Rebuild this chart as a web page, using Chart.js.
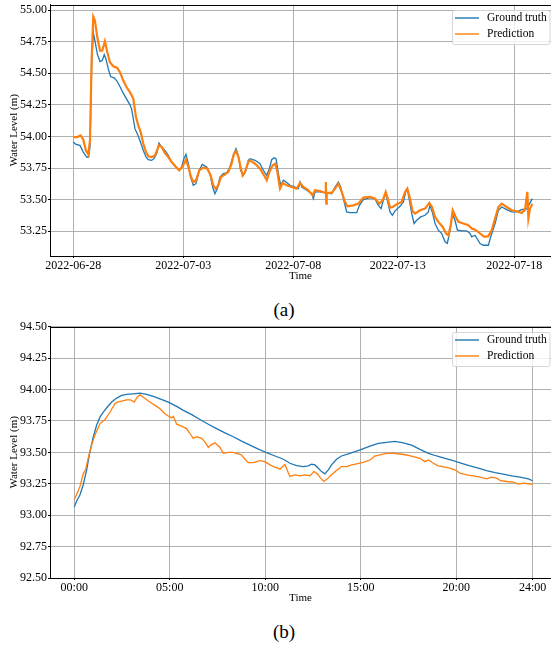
<!DOCTYPE html>
<html>
<head>
<meta charset="utf-8">
<script src="https://cdn.jsdelivr.net/npm/chart.js@4.4.1/dist/chart.umd.min.js"></script>
<style>
html, body { margin: 0; padding: 0; background: #fff; overflow: hidden; }
body { width: 551px; height: 650px; position: relative; font-family: 'Liberation Serif', 'Times New Roman', serif; }
canvas { position: absolute; left: 0; }
.cap { position: absolute; left: 0; width: 568px; text-align: center; font-size: 19px; line-height: 20px; color: #000; }
</style>
</head>
<body>
<canvas id="chartA" width="551" height="293" style="top:-10px"></canvas>
<div class="cap" style="top:300px">(a)</div>
<canvas id="chartB" width="551" height="293" style="top:312px"></canvas>
<div class="cap" style="top:622px">(b)</div>
<script>
// (a) x is the sample index of the plot, date ticks sit at the index where each day starts
const tickPosA = [0, 120, 240, 354, 481];
const tickLabelsA = ['2022-06-28', '2022-07-03', '2022-07-08', '2022-07-13', '2022-07-18'];
const yTicksA = [53.25, 53.5, 53.75, 54.0, 54.25, 54.5, 54.75, 55.0];

const truthXA = [0, 2.9, 7.3, 10.9, 14.5, 16.7, 18.2, 20, 21.8, 23.6, 26.2, 29.1, 31.6, 33.8, 35.6, 38.2, 40.7, 44.4, 47.3, 50.9,
  54.5, 58.2, 61.8, 63.6, 65.5, 67.3, 69.8, 72.7, 76.4, 79.3, 81.8, 85.5, 88, 90.9, 93.5, 96.4, 100, 103.6, 107.3, 110.9,
  115.6, 118.2, 120.7, 122.9, 125.5, 128, 130.9, 133.8, 137.5, 140.7, 145.5, 149.1, 152, 154.5, 157.1, 160, 163.6, 167.3, 170.9, 174.5,
  177.5, 180, 182.5, 185.5, 188.4, 190.9,
  192.8, 198.3, 203.7, 207.3, 211.0, 213.9, 216.4, 219.0, 221.2, 223.7, 226.3, 229.2, 232.1, 236.4, 241.9, 245.5, 247.3, 249.2, 254.6, 260.1,
  261.9, 263.7, 269.2, 276.4, 281.9, 285.5, 289.2, 291.7, 294.6, 298.2, 301.9, 309.2, 312.1, 316.4, 323.7, 329.2, 332.8, 335.7, 338.2, 340.8,
  342.6, 345.5, 348.1, 351.0, 356.4, 360.1, 363.0, 364.4, 366.6, 369.2, 371.7, 374.6, 379.0, 383.7, 387.3, 389.1, 392.1, 394.6, 398.2, 401.9,
  405.5, 408.0, 411.0, 413.5, 416.4, 419.0, 423.7, 429.1, 432.8, 434.6, 438.2, 443.7, 447.3, 452.8, 455.3, 460.1, 463.7, 467.3, 472.8, 478.2,
  483.7, 489.1, 494.6, 500.8];
const truthYA = [53.955, 53.937, 53.929, 53.876, 53.837, 53.837, 53.916, 54.547, 54.824, 54.758, 54.653, 54.592, 54.600, 54.647, 54.613, 54.534, 54.474, 54.463, 54.442, 54.395,
  54.342, 54.295, 54.250, 54.218, 54.139, 54.061, 54.021, 53.968, 53.889, 53.837, 53.816, 53.811, 53.824, 53.863, 53.947, 53.916, 53.889, 53.850, 53.797, 53.771,
  53.732, 53.758, 53.824, 53.858, 53.784, 53.679, 53.613, 53.626, 53.732, 53.779, 53.758, 53.705, 53.600, 53.547, 53.587, 53.679, 53.705, 53.711, 53.758, 53.850,
  53.903, 53.850, 53.732, 53.692, 53.732, 53.811,
  53.824, 53.811, 53.784, 53.732, 53.692, 53.745, 53.816, 53.832, 53.824, 53.705, 53.613, 53.653, 53.639, 53.613, 53.600, 53.587, 53.639, 53.600, 53.574, 53.547,
  53.508, 53.561, 53.561, 53.553, 53.547, 53.600, 53.639, 53.600, 53.508, 53.403, 53.397, 53.397, 53.455, 53.500, 53.516, 53.503, 53.455, 53.429, 53.495, 53.553,
  53.495, 53.403, 53.376, 53.411, 53.447, 53.482, 53.574, 53.587, 53.495, 53.389, 53.311, 53.337, 53.363, 53.376, 53.403, 53.455, 53.389, 53.311, 53.258, 53.232,
  53.166, 53.153, 53.258, 53.389, 53.337, 53.258, 53.253, 53.253, 53.232, 53.205, 53.218, 53.153, 53.139, 53.139, 53.205, 53.311, 53.416, 53.442, 53.421, 53.403,
  53.403, 53.421, 53.429, 53.508];

const predXA = [0, 4.4, 8.0, 10.9, 13.8, 16.4, 18.2, 20.0, 21.8, 23.6, 26.2, 29.1, 31.6, 34.5, 37.1, 40.0, 43.6, 48.0, 50.9, 54.5,
  58.2, 61.8, 65.5, 68.4, 70.9, 73.5, 76.4, 79.3, 81.8, 85.5, 89.1, 93.5, 96.4, 100.0, 103.6, 107.3, 110.9, 115.6, 119.3, 122.9,
  125.5, 128.4, 130.9, 133.8, 137.5, 141.8, 146.2, 149.8, 152.7, 155.3, 158.2, 161.1, 165.5, 169.1, 172.7, 175.3, 177.5, 180.0, 182.5, 184.7,
  187.3, 190.9,
  192.8, 198.3, 203.7, 208.1, 211.0, 213.9, 217.5, 220.4, 222.6, 225.5, 228.4, 232.8, 238.3, 243.7, 247.3, 251.0, 256.4, 261.2, 263.7, 269.2,
  275.0, 275.5, 276.0, 276.5, 281.9, 285.5, 289.2, 292.8, 296.4, 299.0, 305.5, 311.0, 316.4, 323.7, 329.2, 333.9, 337.5, 340.8, 343.0, 345.5,
  348.4, 352.8, 358.2, 361.9, 364.4, 367.3, 369.9, 372.8, 378.2, 383.7, 388.4, 391.3, 394.6, 398.2, 403.0, 406.6, 409.1, 411.7, 413.9, 416.8,
  420.1, 425.5, 431.0, 434.6, 438.2, 443.7, 448.4, 452.8, 456.4, 460.1, 463.7, 467.3, 472.8, 478.2, 483.7, 489.1, 492.8, 495.3, 496.4, 498.2,
  500.8];
const predYA = [53.995, 53.995, 54.008, 53.974, 53.889, 53.858, 53.968, 54.600, 54.947, 54.916, 54.784, 54.679, 54.679, 54.753, 54.666, 54.587, 54.555, 54.542, 54.508, 54.442,
  54.389, 54.350, 54.297, 54.153, 54.087, 54.034, 53.942, 53.876, 53.842, 53.837, 53.850, 53.929, 53.916, 53.868, 53.837, 53.797, 53.766, 53.732, 53.763, 53.816,
  53.758, 53.679, 53.639, 53.653, 53.732, 53.753, 53.745, 53.692, 53.613, 53.587, 53.613, 53.679, 53.700, 53.718, 53.784, 53.863, 53.884, 53.842, 53.758, 53.692,
  53.718, 53.797,
  53.811, 53.784, 53.745, 53.692, 53.653, 53.718, 53.771, 53.784, 53.718, 53.587, 53.632, 53.613, 53.600, 53.587, 53.632, 53.600, 53.574, 53.534, 53.574, 53.568,
  53.553, 53.639, 53.468, 53.553, 53.553, 53.587, 53.626, 53.561, 53.482, 53.447, 53.455, 53.468, 53.516, 53.521, 53.508, 53.468, 53.495, 53.561, 53.508, 53.437,
  53.442, 53.463, 53.482, 53.561, 53.587, 53.508, 53.411, 53.389, 53.416, 53.429, 53.474, 53.442, 53.363, 53.324, 53.284, 53.232, 53.218, 53.297, 53.416, 53.368,
  53.324, 53.311, 53.297, 53.271, 53.263, 53.232, 53.205, 53.211, 53.258, 53.350, 53.442, 53.468, 53.442, 53.416, 53.408, 53.395, 53.421, 53.561, 53.350, 53.429,
  53.468];

// (b) x in hours of the day
const tickPosB = [0, 5, 10, 15, 20, 24];
const tickLabelsB = ['00:00', '05:00', '10:00', '15:00', '20:00', '24:00'];
const yTicksB = [92.5, 92.75, 93.0, 93.25, 93.5, 93.75, 94.0, 94.25, 94.5];

const truthXB = [0, 0.12, 0.30, 0.47, 0.65, 0.82, 1.00, 1.17, 1.35, 1.52, 1.70, 1.96, 2.22, 2.48, 2.74, 3.09, 3.44, 3.79, 4.14, 4.49,
  4.92, 5.36, 5.71, 6.15, 6.58, 7.02, 7.45, 7.89, 8.33, 8.76, 9.20, 9.64, 10.07, 10.51, 10.95,
  11.29, 11.64, 11.99, 12.25, 12.43, 12.60, 12.78, 12.95, 13.12, 13.30, 13.47, 13.73, 13.99, 14.35, 14.70, 15.04, 15.48, 15.92, 16.35, 16.79,
  17.23, 17.66, 18.10, 18.54, 18.97, 19.41, 19.84, 20.28, 20.72, 21.15, 21.59, 22.03, 22.46, 22.90, 23.34, 23.77, 24.0];
const truthYB = [93.066, 93.111, 93.163, 93.242, 93.361, 93.505, 93.624, 93.716, 93.782, 93.821, 93.855, 93.900, 93.932, 93.953, 93.961, 93.966, 93.971, 93.961, 93.945, 93.926,
  93.900, 93.866, 93.834, 93.800, 93.761, 93.724, 93.689, 93.655, 93.624, 93.589, 93.558, 93.526, 93.497, 93.471, 93.445,
  93.413, 93.395, 93.387, 93.392, 93.405, 93.400, 93.374, 93.347, 93.329, 93.361, 93.400, 93.445, 93.471, 93.487, 93.505, 93.524, 93.550, 93.571, 93.579, 93.587,
  93.576, 93.558, 93.524, 93.492, 93.471, 93.453, 93.434, 93.413, 93.392, 93.374, 93.355, 93.339, 93.326, 93.313, 93.303, 93.289, 93.274];

const predXB = [0, 0.12, 0.30, 0.47, 0.59, 0.73, 0.91, 1.08, 1.35, 1.61, 1.87, 2.13, 2.26, 2.48, 2.74, 2.95, 3.13, 3.30, 3.44, 3.62,
  3.88, 4.23, 4.49, 4.75, 4.92, 5.10, 5.19, 5.36, 5.62, 5.88, 6.06, 6.23, 6.41, 6.67, 6.84, 7.02, 7.14, 7.37, 7.63, 7.80,
  8.06, 8.33, 8.59, 8.76, 8.94, 9.11, 9.37, 9.72, 9.98, 10.25, 10.42, 10.59, 10.77, 11.03, 11.20,
  11.29, 11.55, 11.82, 12.08, 12.34, 12.55, 12.73, 12.90, 13.07, 13.25, 13.47, 13.73, 13.99, 14.26, 14.52, 14.78, 15.13, 15.48, 15.74, 16.00,
  16.35, 16.70, 17.05, 17.40, 17.75, 18.10, 18.36, 18.54, 18.80, 19.06, 19.41, 19.67, 19.93, 20.19, 20.54, 20.89, 21.24, 21.59, 21.85, 22.11,
  22.32, 22.64, 22.99, 23.25, 23.51, 23.77, 24.0];
const predYB = [93.124, 93.163, 93.229, 93.329, 93.361, 93.453, 93.558, 93.637, 93.729, 93.761, 93.821, 93.887, 93.900, 93.908, 93.918, 93.918, 93.900, 93.939, 93.958, 93.939,
  93.908, 93.874, 93.847, 93.808, 93.789, 93.774, 93.787, 93.724, 93.708, 93.689, 93.650, 93.611, 93.624, 93.611, 93.584, 93.539, 93.558, 93.576, 93.539, 93.492,
  93.500, 93.500, 93.487, 93.479, 93.445, 93.418, 93.418, 93.434, 93.426, 93.400, 93.387, 93.379, 93.366, 93.405, 93.339,
  93.308, 93.321, 93.313, 93.321, 93.313, 93.347, 93.329, 93.295, 93.268, 93.289, 93.321, 93.355, 93.387, 93.387, 93.400, 93.408, 93.421, 93.439, 93.471, 93.479,
  93.492, 93.492, 93.487, 93.479, 93.466, 93.453, 93.426, 93.439, 93.413, 93.392, 93.382, 93.374, 93.361, 93.334, 93.321, 93.313, 93.303, 93.289, 93.303, 93.295,
  93.274, 93.268, 93.263, 93.247, 93.255, 93.250, 93.247];

const BLUE = '#1f77b4';
const ORANGE = '#ff7f0e';
const FONT = "'Liberation Serif', 'Times New Roman', serif";

Chart.defaults.font.family = FONT;
Chart.defaults.color = '#000';

function points(xs, ys) {
  return xs.map((x, i) => ({ x: x, y: ys[i] }));
}

// top spine, matplotlib style
const topSpine = {
  id: 'topSpine',
  afterDraw(chart) {
    const { ctx, chartArea: a } = chart;
    ctx.save();
    ctx.strokeStyle = '#000';
    ctx.lineWidth = 1;
    ctx.beginPath();
    ctx.moveTo(a.left, Math.round(a.top) + 0.5);
    ctx.lineTo(a.right, Math.round(a.top) + 0.5);
    ctx.stroke();
    ctx.restore();
  }
};

// legend box in the upper right corner of the plot
const cornerLegend = {
  id: 'cornerLegend',
  afterDraw(chart) {
    const { ctx, chartArea: a } = chart;
    const x0 = a.right - 99, y0 = a.top + 5.3;
    ctx.save();
    ctx.fillStyle = 'rgba(255,255,255,0.8)';
    ctx.strokeStyle = 'rgba(210,210,210,0.9)';
    ctx.lineWidth = 1;
    ctx.beginPath();
    ctx.roundRect(x0 + 0.5, y0 + 0.5, 97.5, 34, 2);
    ctx.fill();
    ctx.stroke();
    ctx.font = '11.5px ' + FONT;
    ctx.textBaseline = 'middle';
    ctx.fillStyle = '#000';
    chart.data.datasets.forEach((ds, i) => {
      const y = y0 + 8 + i * 16;
      ctx.strokeStyle = ds.borderColor;
      ctx.lineWidth = 1.4;
      ctx.beginPath();
      ctx.moveTo(x0 + 3, y);
      ctx.lineTo(x0 + 27, y);
      ctx.stroke();
      ctx.fillText(ds.label, x0 + 35, y);
    });
    ctx.restore();
  }
};

function makeChart(id, cfg) {
  return new Chart(document.getElementById(id), {
    type: 'line',
    data: {
      datasets: [
        { label: 'Ground truth', data: points(cfg.tx, cfg.ty), borderColor: BLUE, borderWidth: 1.3, order: 1 },
        { label: 'Prediction', data: points(cfg.px, cfg.py), borderColor: ORANGE, borderWidth: cfg.predWidth, order: 0 }
      ]
    },
    options: {
      responsive: false,
      devicePixelRatio: 1,
      animation: false,
      events: [],
      layout: { padding: { top: 14.7, left: 0, right: 0, bottom: 0 } },
      elements: { point: { radius: 0 }, line: { tension: 0, fill: false } },
      plugins: { legend: { display: false }, tooltip: { enabled: false } },
      scales: {
        x: {
          type: 'linear',
          min: cfg.xmin,
          max: cfg.xmax,
          afterBuildTicks: s => { s.ticks = cfg.xticks.map(v => ({ value: v })); },
          afterFit: s => { s.height = 27; s.paddingLeft = 0; s.paddingRight = 0; },
          ticks: {
            autoSkip: false, maxRotation: 0, padding: 1,
            font: { size: 12 }, color: '#000',
            callback: v => cfg.xlabels[cfg.xticks.indexOf(v)]
          },
          grid: { color: '#b0b0b0', lineWidth: 1, drawTicks: true, tickLength: 2, tickColor: '#000' },
          border: { display: true, color: '#000', width: 1 },
          title: { display: true, text: 'Time', font: { size: 11 }, color: '#000', padding: { top: 0, bottom: 0 } }
        },
        y: {
          type: 'linear',
          min: cfg.ymin,
          max: cfg.ymax,
          afterBuildTicks: s => { s.ticks = cfg.yticks.map(v => ({ value: v })); },
          afterFit: s => { s.width = 50; s.paddingTop = 0; s.paddingBottom = 0; },
          ticks: { padding: 1, font: { size: 12 }, color: '#000', callback: v => v.toFixed(2) },
          grid: { color: '#b0b0b0', lineWidth: 1, drawTicks: true, tickLength: 2, tickColor: '#000' },
          border: { display: true, color: '#000', width: 1 },
          title: { display: true, text: 'Water Level (m)', font: { size: 11 }, color: '#000', padding: { top: 7.4, bottom: 0 } }
        }
      }
    },
    plugins: [topSpine, cornerLegend]
  });
}

makeChart('chartA', {
  tx: truthXA, ty: truthYA, px: predXA, py: predYA, predWidth: 2.2,
  xmin: -25.4, xmax: 521.1, xticks: tickPosA, xlabels: tickLabelsA,
  ymin: 53.054, ymax: 55.042, yticks: yTicksA
});

makeChart('chartB', {
  tx: truthXB, ty: truthYB, px: predXB, py: predYB, predWidth: 1.3,
  xmin: -1.27, xmax: 24.96, xticks: tickPosB, xlabels: tickLabelsB,
  ymin: 92.5, ymax: 94.5, yticks: yTicksB
});
</script>
</body>
</html>
